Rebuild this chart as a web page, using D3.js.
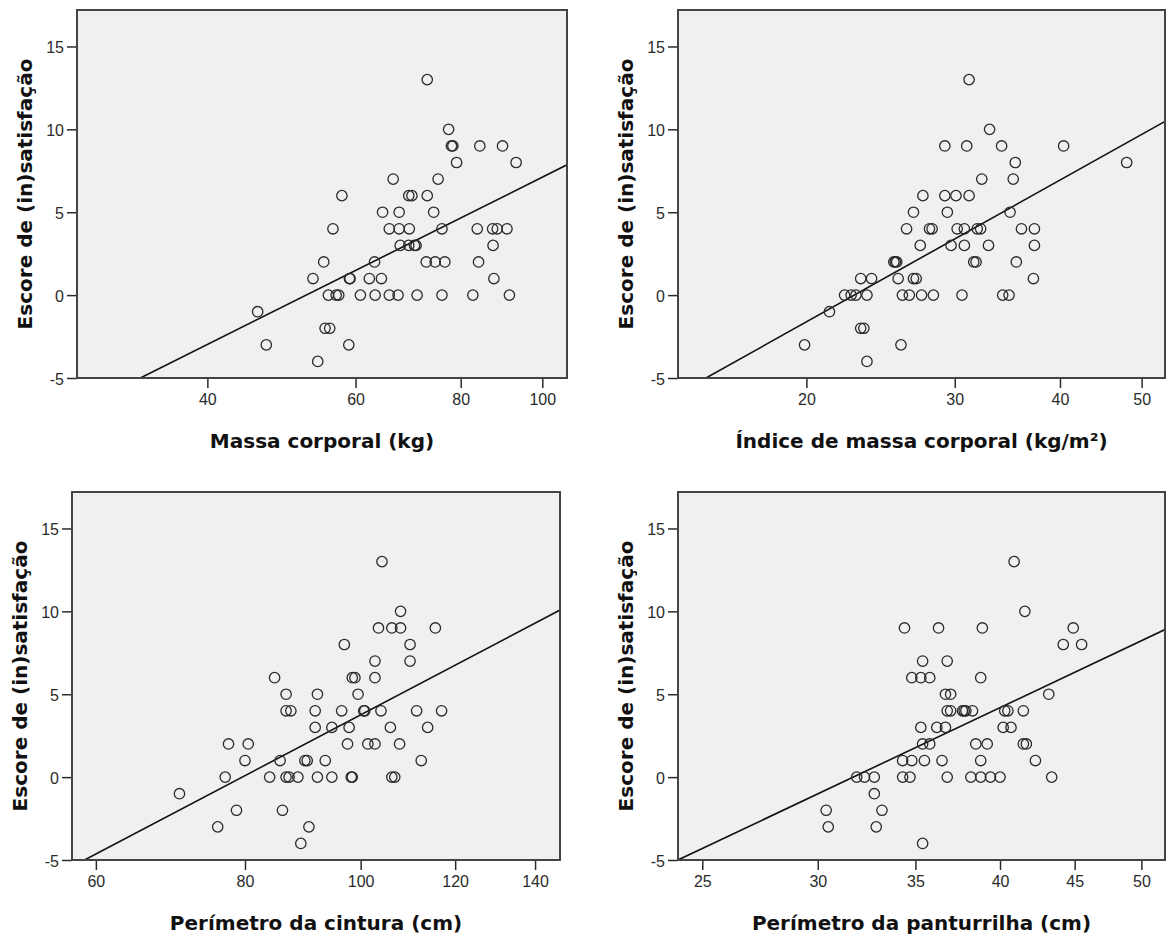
<!DOCTYPE html>
<html>
<head>
<meta charset="utf-8">
<script src="https://cdn.jsdelivr.net/npm/d3@7"></script>
<style>
  body { margin: 0; background: #fff; }
  svg { display: block; }
</style>
</head>
<body>
<div id="chart"></div>
<script>
// score values shared by all four panels
const scoreTicks = [-5, 0, 5, 10, 15];
const scoreDomain = [-5, 17.2];

// [x, score] pairs
const massaPoints = [
  [73.0, 13], [77.4, 10],
  [78.0, 9], [78.3, 9], [84.3, 9], [89.7, 9],
  [79.1, 8], [93.1, 8],
  [66.5, 7], [75.2, 7],
  [57.8, 6], [69.4, 6], [70.0, 6], [73.0, 6],
  [64.6, 5], [67.6, 5], [74.3, 5],
  [56.4, 4], [65.8, 4], [67.6, 4], [69.5, 4], [76.0, 4], [83.7, 4], [87.3, 4], [88.4, 4], [90.8, 4],
  [67.8, 3], [69.4, 3], [70.5, 3], [70.8, 3], [87.4, 3],
  [55.0, 2], [63.2, 2], [72.8, 2], [74.6, 2], [76.6, 2], [84.0, 2],
  [53.4, 1], [59.0, 1], [59.1, 1], [62.3, 1], [64.4, 1], [87.6, 1],
  [55.7, 0], [56.9, 0], [57.3, 0], [60.8, 0], [63.3, 0], [65.8, 0], [67.4, 0], [71.0, 0], [76.0, 0], [82.7, 0], [91.4, 0],
  [45.9, -1],
  [55.2, -2], [55.9, -2],
  [47.0, -3], [58.9, -3],
  [54.1, -4],
];

const imcPoints = [
  [31.2, 13], [33.0, 10],
  [29.2, 9], [31.0, 9], [34.1, 9], [40.4, 9],
  [35.4, 8], [48.0, 8],
  [32.3, 7], [35.2, 7],
  [27.5, 6], [29.2, 6], [30.1, 6], [31.2, 6],
  [26.8, 5], [29.4, 5], [34.9, 5],
  [26.3, 4], [28.0, 4], [28.2, 4], [30.2, 4], [30.8, 4], [31.9, 4], [32.2, 4], [36.0, 4], [37.3, 4],
  [27.3, 3], [29.7, 3], [30.8, 3], [32.9, 3], [37.3, 3],
  [25.4, 2], [25.5, 2], [25.6, 2], [31.6, 2], [31.8, 2], [35.5, 2],
  [23.2, 1], [23.9, 1], [25.7, 1], [26.8, 1], [27.0, 1], [37.2, 1],
  [22.2, 0], [22.6, 0], [22.9, 0], [23.6, 0], [26.0, 0], [26.5, 0], [27.4, 0], [28.3, 0], [30.6, 0], [34.2, 0], [34.8, 0],
  [21.3, -1],
  [23.2, -2], [23.4, -2],
  [19.9, -3], [25.9, -3],
  [23.6, -4],
];

const cinturaPoints = [
  [104.2, 13], [108.0, 10],
  [103.5, 9], [106.2, 9], [108.0, 9], [115.5, 9],
  [96.9, 8], [110.0, 8],
  [102.8, 7], [110.0, 7],
  [84.7, 6], [98.4, 6], [98.9, 6], [102.8, 6],
  [86.6, 5], [92.0, 5], [99.5, 5],
  [86.6, 4], [87.4, 4], [91.6, 4], [96.4, 4], [100.6, 4], [100.8, 4], [104.0, 4], [111.4, 4], [116.9, 4],
  [91.6, 3], [94.6, 3], [97.8, 3], [105.9, 3], [113.8, 3],
  [77.5, 2], [80.5, 2], [97.5, 2], [101.4, 2], [102.8, 2], [107.8, 2],
  [80.0, 1], [85.6, 1], [89.8, 1], [90.2, 1], [93.4, 1], [112.4, 1],
  [77.0, 0], [83.9, 0], [86.6, 0], [87.1, 0], [88.6, 0], [92.0, 0], [94.6, 0], [98.2, 0], [98.4, 0], [106.2, 0], [106.8, 0],
  [70.5, -1],
  [78.7, -2], [86.0, -2],
  [75.9, -3], [90.5, -3],
  [89.1, -4],
];

const panturrilhaPoints = [
  [40.9, 13], [41.6, 10],
  [34.4, 9], [36.3, 9], [38.9, 9], [44.9, 9],
  [44.2, 8], [45.5, 8],
  [35.4, 7], [36.8, 7],
  [34.8, 6], [35.3, 6], [35.8, 6], [38.8, 6],
  [36.7, 5], [37.0, 5], [43.2, 5],
  [36.8, 4], [37.0, 4], [37.7, 4], [37.8, 4], [37.9, 4], [38.3, 4], [40.3, 4], [40.5, 4], [41.5, 4],
  [35.3, 3], [36.2, 3], [36.7, 3], [40.2, 3], [40.7, 3],
  [35.4, 2], [35.8, 2], [38.5, 2], [39.2, 2], [41.5, 2], [41.7, 2],
  [34.3, 1], [34.8, 1], [35.5, 1], [36.5, 1], [38.8, 1], [42.3, 1],
  [31.9, 0], [32.3, 0], [32.8, 0], [34.3, 0], [34.7, 0], [36.8, 0], [38.2, 0], [38.8, 0], [39.4, 0], [40.0, 0], [43.4, 0],
  [32.8, -1],
  [30.4, -2], [33.2, -2],
  [30.5, -3], [32.9, -3],
  [35.4, -4],
];

// fit line end points (x, score)
const massaFit = [[33.3, -5], [107, 7.86]];
const imcFit = [[15.2, -5], [53.3, 10.48]];
const cinturaFit = [[58.7, -5], [146.9, 10.08]];
const panturrilhaFit = [[24.06, -5], [51.9, 8.9]];

// x axis (log scaled) domains and ticks
const massaDomain = [28.0, 107];
const imcDomain = [14.08, 53.3];
const cinturaDomain = [57.3, 146.9];
const panturrilhaDomain = [24.06, 51.9];

const massaTicks = [40, 60, 80, 100];
const imcTicks = [20, 30, 40, 50];
const cinturaTicks = [60, 80, 100, 120, 140];
const panturrilhaTicks = [25, 30, 35, 40, 45, 50];

const yTitle = 'Escore de (in)satisfação';

const width = 1166;
const height = 935;

const panels = [
  { points: massaPoints, fit: massaFit, domain: massaDomain, ticks: massaTicks,
    title: 'Massa corporal (kg)', left: 77, top: 10, right: 567, bottom: 378 },
  { points: imcPoints, fit: imcFit, domain: imcDomain, ticks: imcTicks,
    title: 'Índice de massa corporal (kg/m²)', left: 678, top: 10, right: 1165, bottom: 378 },
  { points: cinturaPoints, fit: cinturaFit, domain: cinturaDomain, ticks: cinturaTicks,
    title: 'Perímetro da cintura (cm)', left: 72, top: 492, right: 560, bottom: 860 },
  { points: panturrilhaPoints, fit: panturrilhaFit, domain: panturrilhaDomain, ticks: panturrilhaTicks,
    title: 'Perímetro da panturrilha (cm)', left: 678, top: 492, right: 1165, bottom: 860 },
];

const svg = d3.select('#chart').append('svg')
  .attr('width', width)
  .attr('height', height);

const tickFont = '"Liberation Sans", Arial, sans-serif';
const titleFont = '"DejaVu Sans", Verdana, sans-serif';
const ink = '#2b2b2b';
// plain hyphen for negatives, like the original
const plain = d => String(d);

const drawPanel = (p, i) => {
  const x = d3.scaleLog().domain(p.domain).range([p.left, p.right]);
  const y = d3.scaleLinear().domain(scoreDomain).range([p.bottom, p.top]);

  const g = svg.append('g').attr('class', `panel panel${i}`);

  g.append('clipPath')
    .attr('id', `clip${i}`)
    .append('rect')
    .attr('x', p.left)
    .attr('y', p.top)
    .attr('width', p.right - p.left)
    .attr('height', p.bottom - p.top);

  g.append('rect')
    .attr('x', p.left)
    .attr('y', p.top)
    .attr('width', p.right - p.left)
    .attr('height', p.bottom - p.top)
    .attr('fill', '#f0f0f0');

  // y axis
  const yAxis = g.append('g')
    .attr('transform', `translate(${p.left},0)`)
    .call(d3.axisLeft(y).tickValues(scoreTicks).tickSize(10).tickPadding(3).tickFormat(plain));
  yAxis.select('.domain').remove();
  yAxis.selectAll('line').attr('stroke', ink).attr('stroke-width', 1.5);
  yAxis.selectAll('text')
    .attr('dy', '0.4em')
    .attr('fill', ink)
    .style('font-family', tickFont)
    .style('font-size', '16px');

  // x axis
  const xAxis = g.append('g')
    .attr('transform', `translate(0,${p.bottom})`)
    .call(d3.axisBottom(x).tickValues(p.ticks).tickSize(10).tickPadding(6).tickFormat(plain));
  xAxis.select('.domain').remove();
  xAxis.selectAll('line').attr('stroke', ink).attr('stroke-width', 1.5);
  xAxis.selectAll('text')
    .attr('fill', ink)
    .style('font-family', tickFont)
    .style('font-size', '16px');

  // fit line
  g.append('path')
    .datum(p.fit)
    .attr('clip-path', `url(#clip${i})`)
    .attr('fill', 'none')
    .attr('stroke', '#111')
    .attr('stroke-width', 1.6)
    .attr('d', d3.line().x(d => x(d[0])).y(d => y(d[1])));

  g.append('g')
    .selectAll('circle')
    .data(p.points)
    .enter().append('circle')
    .attr('cx', d => x(d[0]))
    .attr('cy', d => y(d[1]))
    .attr('r', 5.2)
    .attr('fill', 'none')
    .attr('stroke', '#2a2a2a')
    .attr('stroke-width', 1.3);

  // frame
  g.append('rect')
    .attr('x', p.left)
    .attr('y', p.top)
    .attr('width', p.right - p.left)
    .attr('height', p.bottom - p.top)
    .attr('fill', 'none')
    .attr('stroke', '#444')
    .attr('stroke-width', 2);

  g.append('text')
    .attr('x', (p.left + p.right) / 2)
    .attr('y', p.bottom + 70)
    .attr('text-anchor', 'middle')
    .attr('fill', '#111')
    .style('font-family', titleFont)
    .style('font-size', '20px')
    .style('font-weight', 700)
    .text(p.title);

  g.append('text')
    .attr('transform', `translate(${p.left - 45},${(p.top + p.bottom) / 2}) rotate(-90)`)
    .attr('text-anchor', 'middle')
    .attr('fill', '#111')
    .style('font-family', titleFont)
    .style('font-size', '20px')
    .style('font-weight', 700)
    .text(yTitle);
};

panels.forEach(drawPanel);
</script>
</body>
</html>
